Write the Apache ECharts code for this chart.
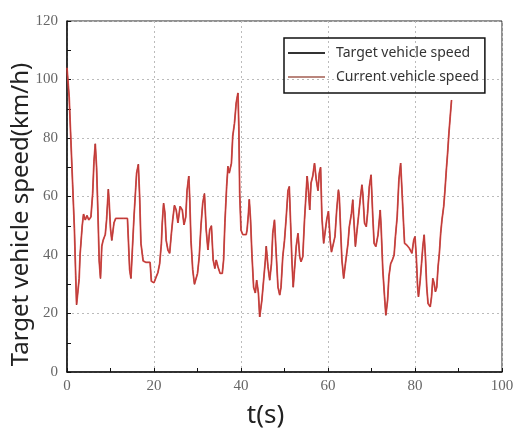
<!DOCTYPE html>
<html>
<head>
<meta charset="utf-8">
<script src="https://cdn.jsdelivr.net/npm/echarts@6/dist/echarts.min.js"></script>
<style>
  html, body { margin: 0; padding: 0; background: #fff; }
  #echart { width: 514px; height: 428px; }
</style>
</head>
<body>
<div id="echart"></div>
<script>
// time samples (s)
const timeS = [
  0, 0.3, 0.5, 0.9, 1.3, 1.7, 2.0, 2.2, 2.8, 3.0,
  3.5, 3.8, 4.2, 4.6, 5.0, 5.5, 5.9, 6.2, 6.5, 6.8,
  7.1, 7.4, 7.7, 8.0, 8.3, 8.8, 9.1, 9.5, 9.7, 10.0,
  10.3, 10.8, 11.2, 12.0, 13.0, 13.9, 14.1, 14.4, 14.7, 15.0,
  15.4, 15.8, 16.0, 16.4, 16.7, 17.0, 17.5, 18.1, 19.1, 19.4,
  20.0, 20.5, 20.9, 21.3, 21.7, 21.9, 22.2, 22.5, 22.8, 23.2,
  23.6, 24.0, 24.3, 24.7, 25.1, 25.5, 26.0, 26.5, 26.9, 27.3,
  27.6, 28.0, 28.2, 28.5, 28.9, 29.3, 29.7, 30.0, 30.4, 30.8,
  31.2, 31.6, 32.0, 32.4, 32.8, 33.2, 33.6, 34.0, 34.3, 34.7,
  35.2, 35.7, 36.0, 36.3, 36.7, 37.0, 37.3, 37.8, 38.1, 38.5,
  38.9, 39.3, 39.5, 39.7, 40.0, 40.4, 41.2, 41.4, 41.7, 41.9,
  42.2, 42.5, 42.9, 43.3, 43.6, 44.0, 44.3, 44.8, 45.2, 45.6,
  45.8, 46.2, 46.6, 47.0, 47.3, 47.7, 48.0, 48.5, 48.9, 49.2,
  49.6, 50.0, 50.4, 50.8, 51.1, 51.4, 51.7, 52.0, 52.3, 52.7,
  53.1, 53.5, 53.8, 54.2, 54.6, 55.0, 55.2, 55.5, 55.8, 56.1,
  56.5, 56.9, 57.3, 57.7, 58.0, 58.3, 58.6, 59.0, 59.4, 59.7,
  60.1, 60.5, 60.8, 61.2, 61.6, 62.0, 62.4, 62.6, 62.9, 63.2,
  63.6, 64.0, 64.6, 64.9, 65.4, 65.7, 65.9, 66.3, 66.6, 67.0,
  67.4, 67.8, 68.0, 68.4, 68.8, 69.1, 69.5, 69.9, 70.3, 70.6,
  71.0, 71.5, 72.0, 72.2, 72.6, 73.0, 73.3, 73.7, 74.0, 74.4,
  74.8, 75.2, 75.5, 75.9, 76.3, 76.7, 77.0, 77.4, 77.6, 78.1,
  78.7, 79.3, 79.7, 80.0, 80.3, 80.6, 80.8, 81.2, 81.5, 81.8,
  82.1, 82.4, 82.7, 83.0, 83.5, 83.8, 84.1, 84.4, 84.7, 85.0,
  85.3, 85.6, 85.9, 86.2, 86.6, 86.9, 87.2, 87.5, 87.8, 88.1,
  88.4
];

// target speed (km/h), same length as timeS
const targetSpeed = [
  104, 98, 94, 79, 64, 49, 33, 23, 32, 40,
  50, 54, 52, 53.5, 52, 53, 61, 72, 78, 70,
  55, 38, 32, 43, 45, 47, 52, 62.5, 58, 49,
  45, 51, 52.5, 52.5, 52.5, 52.5, 45.5, 35, 32, 41,
  53, 63, 68, 71, 60, 44, 38, 37.5, 37.5, 31,
  30.5, 32.5, 34, 37, 44, 51, 57.7, 54.5, 45, 41.7,
  40.6, 47.4, 52, 57, 55.4, 51, 56.6, 55.4, 50.3, 53,
  62, 67, 60, 45, 35, 30, 30, 33.7, 39.4, 50,
  57.7, 61, 48.6, 41.7, 48.6, 50, 38.3, 35.4, 38.3, 36,
  33.7, 33.7, 38.3, 51, 63.4, 70.3, 68, 71.4, 80.6, 85,
  92, 95.4, 84, 61, 48.5, 47, 47, 48.6, 54, 59,
  52, 40.6, 29, 27, 31.4, 27, 18.8, 24.6, 31.4, 38.3,
  43, 36, 31.4, 37, 47.4, 52, 43, 29, 26.3, 29,
  39.4, 45, 53, 62, 63.4, 51, 38.3, 29, 35, 43,
  47.4, 39.4, 37.7, 39.4, 52, 62, 67, 62, 55.4, 64.6,
  67, 71.4, 65.7, 62, 68, 70, 53, 44, 44.6, 52,
  55, 45, 41, 41, 46.3, 55.4, 62.3, 60, 48.6, 38.3,
  32, 37, 44, 49.7, 54.3, 58.9, 53, 42.9, 47.4, 53,
  58.9, 64, 61, 50.9, 49.7, 54.3, 63.4, 67.4, 53, 44,
  42.9, 46.9, 55.4, 50, 34.9, 25.7, 19.4, 24.6, 32.6, 37,
  38.3, 40, 46.3, 53, 65.7, 71.4, 62.3, 49.7, 44, 43.4,
  42.3, 40.6, 45, 46.3, 39.4, 29, 25.7, 31.4, 37, 42.9,
  46.9, 39.4, 29, 23.4, 22.3, 25.7, 32, 30.3, 27.4, 29,
  35.9, 40.6, 47.4, 52, 56.6, 62.3, 69, 74.9, 81.7, 87.4,
  93
];

// the current speed follows the target so closely that it reads the same
const currentSpeed = targetSpeed;

const seriesNames = ['Target vehicle speed', 'Current vehicle speed'];

const chart = echarts.init(document.getElementById('echart'));
const pts = arr => timeS.map((t, i) => [t, arr[i]]);

const tickFont = { fontFamily: 'Liberation Serif', fontSize: 15, color: '#666' };
const gridLine = { show: true, lineStyle: { color: '#bbb', type: [2, 3], width: 1 } };

chart.setOption({
  animation: false,
  grid: {
    left: 67, right: 12, top: 21, bottom: 56,
    outerBoundsMode: 'none', containLabel: false,
    show: true, borderColor: '#222', borderWidth: 1
  },
  legend: {
    orient: 'vertical',
    left: 284, top: 38,
    padding: [8, 6, 9, 4],
    itemGap: 10,
    itemWidth: 37, itemHeight: 2,
    borderColor: '#111', borderWidth: 1.5,
    textStyle: { fontFamily: 'Noto Sans', fontSize: 14, color: '#333', padding: [0, 0, 0, 6] },
    data: [
      { name: seriesNames[0], icon: 'rect', itemStyle: { color: '#333' } },
      { name: seriesNames[1], icon: 'rect', itemStyle: { color: '#b9857c' } }
    ]
  },
  xAxis: {
    type: 'value', min: 0, max: 100, interval: 20,
    name: 't(s)', nameLocation: 'middle', nameGap: 31, nameMoveOverlap: false,
    nameTextStyle: { fontFamily: 'Noto Sans', fontSize: 26, color: '#222', padding: [0, 38, 0, 0] },
    axisLine: { lineStyle: { color: '#111', width: 1.5 } },
    axisTick: { inside: true, length: 4, lineStyle: { color: '#111' } },
    minorTick: { show: true, splitNumber: 2, length: 4, lineStyle: { color: '#111' } },
    axisLabel: Object.assign({ margin: 7 }, tickFont),
    splitLine: gridLine
  },
  yAxis: {
    type: 'value', min: 0, max: 120, interval: 20,
    name: 'Target vehicle speed(km/h)', nameLocation: 'middle', nameGap: 34, nameMoveOverlap: false,
    nameTextStyle: { fontFamily: 'Noto Sans', fontSize: 24, color: '#222', padding: [0, 36, 0, 0] },
    axisLine: { lineStyle: { color: '#111', width: 1.5 } },
    axisTick: { inside: true, length: 4, lineStyle: { color: '#111' } },
    minorTick: { show: true, splitNumber: 2, length: 4, lineStyle: { color: '#111' } },
    axisLabel: Object.assign({ margin: 9 }, tickFont),
    splitLine: gridLine
  },
  series: [
    {
      name: seriesNames[0], type: 'line', data: pts(targetSpeed),
      showSymbol: false, z: 2,
      lineStyle: { color: '#2a1010', width: 1 }, itemStyle: { color: '#333' }
    },
    {
      name: seriesNames[1], type: 'line', data: pts(currentSpeed),
      showSymbol: false, z: 3,
      lineStyle: { color: '#d8403c', width: 1.8, opacity: 0.85 }, itemStyle: { color: '#b9857c' }
    }
  ]
});
</script>
</body>
</html>
